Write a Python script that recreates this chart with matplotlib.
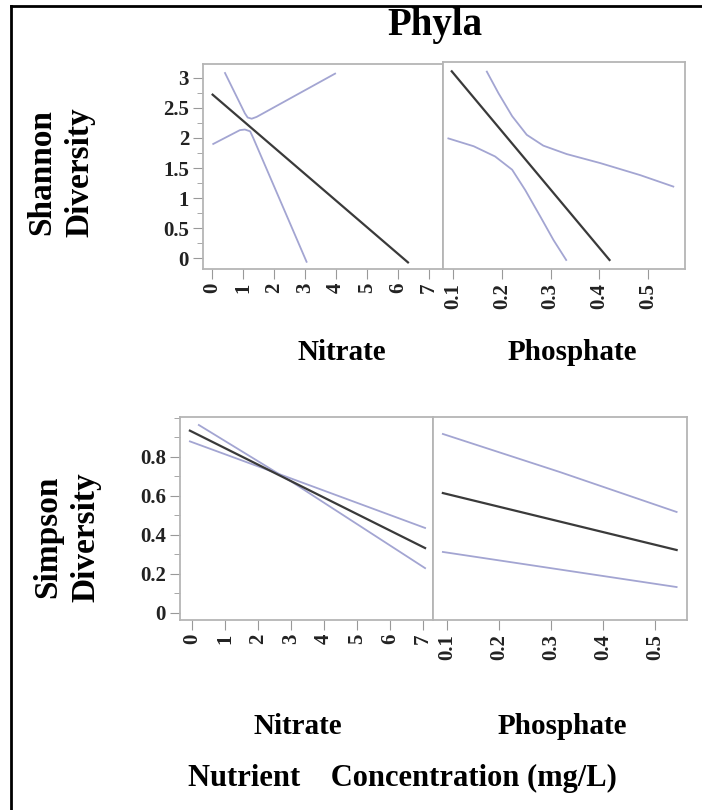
import matplotlib
matplotlib.use('Agg')
import matplotlib.pyplot as plt
from matplotlib.ticker import MultipleLocator

plt.rcParams['font.family'] = ['Liberation Serif', 'DejaVu Serif']
plt.rcParams['font.weight'] = 'bold'

# Shannon vs nitrate: fit line and confidence band
sh_no3_x = [0.02, 6.32]
sh_no3_y = [2.72, -0.07]
sh_no3_hi_x = [0.42, 1.06, 1.15, 1.28, 1.44, 3.97]
sh_no3_hi_y = [3.08, 2.41, 2.34, 2.32, 2.35, 3.07]
sh_no3_lo_x = [0.04, 0.90, 1.06, 1.23, 1.33, 3.05]
sh_no3_lo_y = [1.90, 2.13, 2.14, 2.11, 2.00, -0.06]

# Shannon vs phosphate
sh_po4_x = [0.097, 0.421]
sh_po4_y = [3.105, -0.03]
sh_po4_hi_x = [0.169, 0.193, 0.221, 0.251, 0.285, 0.333, 0.402, 0.484, 0.552]
sh_po4_hi_y = [3.10, 2.74, 2.36, 2.05, 1.87, 1.73, 1.58, 1.38, 1.19]
sh_po4_lo_x = [0.090, 0.142, 0.186, 0.221, 0.248, 0.279, 0.306, 0.332]
sh_po4_lo_y = [1.99, 1.86, 1.69, 1.47, 1.13, 0.69, 0.30, -0.03]

# Simpson vs nitrate
si_no3_x = [-0.06, 7.06]
si_no3_y = [0.935, 0.333]
si_no3_a_x = [0.21, 3.0, 7.06]
si_no3_a_y = [0.964, 0.675, 0.23]
si_no3_b_x = [-0.06, 3.0, 7.06]
si_no3_b_y = [0.88, 0.69, 0.436]

# Simpson vs phosphate
si_po4_x = [0.092, 0.542]
si_po4_y = [0.615, 0.323]
si_po4_hi_x = [0.092, 0.317, 0.542]
si_po4_hi_y = [0.918, 0.723, 0.518]
si_po4_lo_x = [0.092, 0.542]
si_po4_lo_y = [0.313, 0.133]

sh_ticks = [0, 0.5, 1, 1.5, 2, 2.5, 3]
sh_labels = ['0', '0.5', '1', '1.5', '2', '2.5', '3']
si_ticks = [0, 0.2, 0.4, 0.6, 0.8]
si_labels = ['0', '0.2', '0.4', '0.6', '0.8']
no3_ticks = [0, 1, 2, 3, 4, 5, 6, 7]
po4_ticks = [0.1, 0.2, 0.3, 0.4, 0.5]
po4_labels = ['0.1', '0.2', '0.3', '0.4', '0.5']

fit_col = '#3a3a3a'
ci_col = '#a3a5d2'
frame_col = '#b5b5b5'
W, H = 702, 810

fig = plt.figure(figsize=(W / 100, H / 100), dpi=100)


def box(x0, y0, x1, y1):
    return [x0 / W, 1 - y1 / H, (x1 - x0) / W, (y1 - y0) / H]


def style(ax):
    for s in ax.spines.values():
        s.set_color(frame_col)
        s.set_linewidth(1.3)
    ax.tick_params(which='both', direction='out', color='#999999',
                   labelsize=15, labelcolor='#222222')
    ax.tick_params(which='major', length=7, pad=3)
    ax.tick_params(which='minor', length=4)
    for lab in ax.get_xticklabels() + ax.get_yticklabels():
        lab.set_fontweight('bold')


ax1 = fig.add_axes(box(203, 64, 443, 269))
ax2 = fig.add_axes(box(443, 62, 685, 269))
ax3 = fig.add_axes(box(180, 417, 433, 620))
ax4 = fig.add_axes(box(433, 417, 687, 620))

ax1.plot(sh_no3_hi_x, sh_no3_hi_y, color=ci_col, lw=1.3)
ax1.plot(sh_no3_lo_x, sh_no3_lo_y, color=ci_col, lw=1.3)
ax1.plot(sh_no3_x, sh_no3_y, color=fit_col, lw=1.6)
ax2.plot(sh_po4_hi_x, sh_po4_hi_y, color=ci_col, lw=1.3)
ax2.plot(sh_po4_lo_x, sh_po4_lo_y, color=ci_col, lw=1.3)
ax2.plot(sh_po4_x, sh_po4_y, color=fit_col, lw=1.6)
ax3.plot(si_no3_a_x, si_no3_a_y, color=ci_col, lw=1.3)
ax3.plot(si_no3_b_x, si_no3_b_y, color=ci_col, lw=1.3)
ax3.plot(si_no3_x, si_no3_y, color=fit_col, lw=1.6)
ax4.plot(si_po4_hi_x, si_po4_hi_y, color=ci_col, lw=1.3)
ax4.plot(si_po4_lo_x, si_po4_lo_y, color=ci_col, lw=1.3)
ax4.plot(si_po4_x, si_po4_y, color=fit_col, lw=1.6)

ax1.set_xlim(-0.29, 7.45)
ax1.set_ylim(-0.18, 3.23)
ax2.set_xlim(0.079, 0.576)
ax2.set_ylim(-0.18, 3.26)
ax3.set_xlim(-0.36, 7.3)
ax3.set_ylim(-0.036, 1.005)
ax4.set_xlim(0.073, 0.562)
ax4.set_ylim(-0.036, 1.005)

for ax in (ax1, ax3):
    ax.set_xticks(no3_ticks)
    ax.set_xticklabels([str(t) for t in no3_ticks], rotation=90)
for ax in (ax2, ax4):
    ax.set_xticks(po4_ticks)
    ax.set_xticklabels(po4_labels, rotation=90)
    ax.set_yticks([])

ax1.set_yticks(sh_ticks)
ax1.set_yticklabels(sh_labels)
ax1.yaxis.set_minor_locator(MultipleLocator(0.25))
ax3.set_yticks(si_ticks)
ax3.set_yticklabels(si_labels)
ax3.yaxis.set_minor_locator(MultipleLocator(0.1))

for ax in (ax1, ax2, ax3, ax4):
    style(ax)

# panel labels
bold = dict(fontweight='bold', ha='center', va='center')
fig.text(435 / W, 1 - 26 / H, 'Phyla', fontsize=28, **bold)
fig.text(61 / W, 1 - 172 / H, 'Shannon\nDiversity', fontsize=24,
         rotation=90, linespacing=1.3, **bold)
fig.text(67 / W, 1 - 537 / H, 'Simpson\nDiversity', fontsize=24,
         rotation=90, linespacing=1.3, **bold)
fig.text(342 / W, 1 - 353 / H, 'Nitrate', fontsize=21, **bold)
fig.text(572 / W, 1 - 353 / H, 'Phosphate', fontsize=21, **bold)
fig.text(298 / W, 1 - 727 / H, 'Nitrate', fontsize=21, **bold)
fig.text(562 / W, 1 - 727 / H, 'Phosphate', fontsize=21, **bold)
fig.text(402 / W, 1 - 778 / H, 'Nutrient    Concentration (mg/L)',
         fontsize=22, **bold)

# border lines on the left and top edge
fig.add_artist(plt.Line2D([11 / W, 11 / W], [0, 1 - 6 / H],
                          color='black', lw=2, transform=fig.transFigure))
fig.add_artist(plt.Line2D([11 / W, 1], [1 - 6 / H, 1 - 6 / H],
                          color='black', lw=2, transform=fig.transFigure))

fig.savefig('out.png', dpi=100)
